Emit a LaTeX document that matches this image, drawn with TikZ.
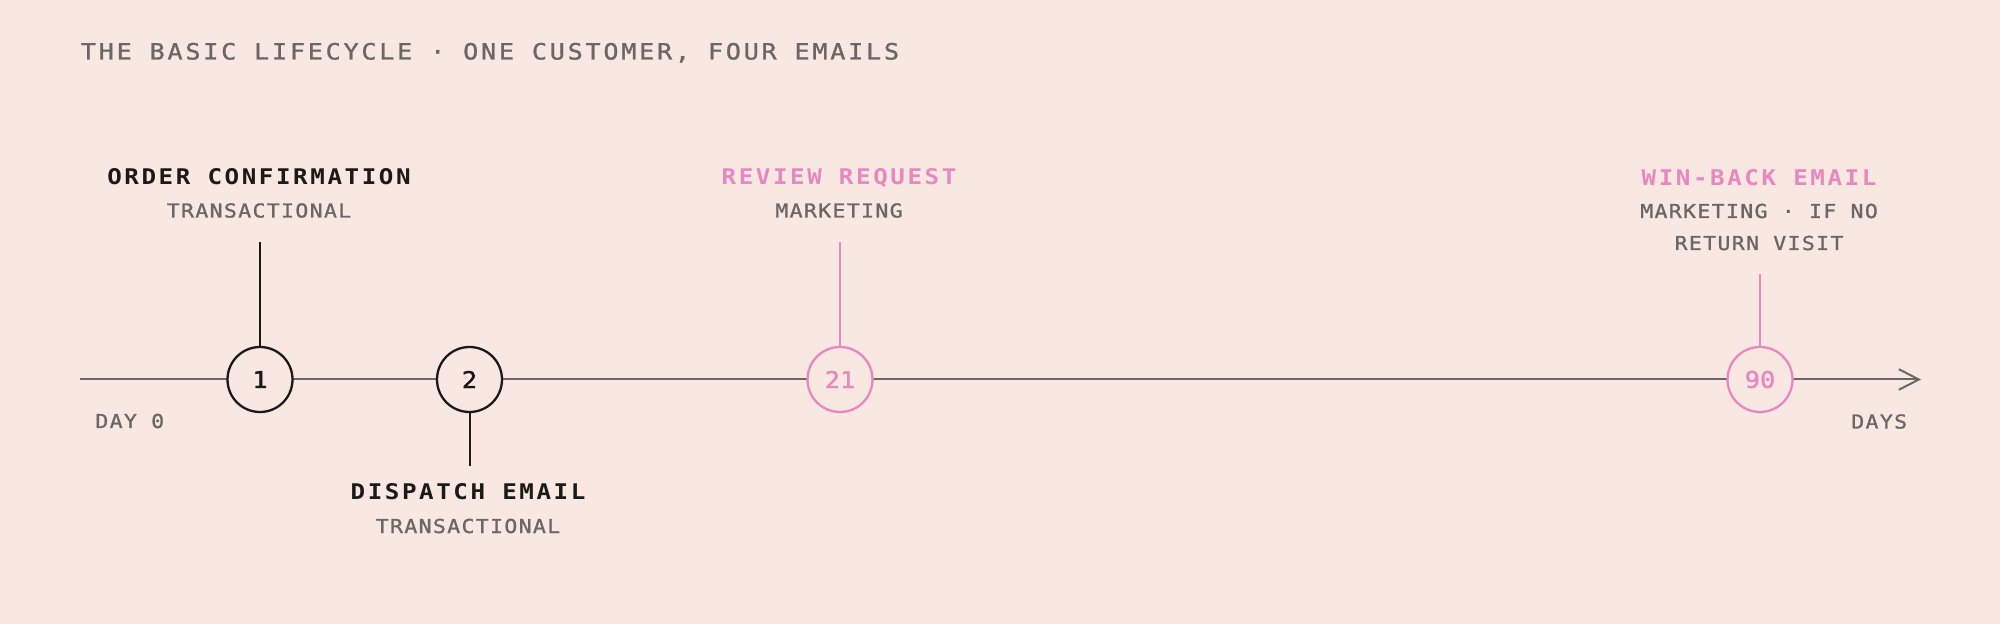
\documentclass[tikz,border=0pt]{standalone}
\usepackage{fontspec}
\usetikzlibrary{arrows.meta}
\newfontfamily\titlefont[LetterSpace=12.4,FakeStretch=1.12,FakeBold=1.2]{DejaVu Sans Mono}
\newfontfamily\labelfont[LetterSpace=11.9,FakeStretch=1.12]{DejaVu Sans Mono}
\newfontfamily\subfont[LetterSpace=7.0,FakeStretch=1.12,FakeBold=1.2]{DejaVu Sans Mono}
\newfontfamily\numfont[FakeBold=1.6,FakeStretch=1.1]{DejaVu Sans Mono}
\definecolor{bg}{HTML}{F8E8E1}
\definecolor{ink}{HTML}{1C1A19}
\definecolor{grey}{HTML}{6A6866}
\definecolor{pink}{HTML}{E888C1}
\tikzset{
  lab/.style={anchor=base, inner sep=0pt, font=\labelfont\bfseries\fontsize{10.8}{12}\selectfont, text=ink},
  sublab/.style={anchor=base, inner sep=0pt, font=\subfont\fontsize{9.6}{11}\selectfont, text=grey},
  evt/.style={circle, draw=ink, line width=1.15pt, minimum size=32.5pt, inner sep=0pt, fill=bg, text=ink, font=\numfont\fontsize{11.5}{13}\selectfont},
  mkt/.style={draw=pink, text=pink},
  axis/.style={draw=grey, line width=1pt},
  stem/.style={draw=ink, line width=1pt},
}
\begin{document}
\begin{tikzpicture}[x=0.5pt,y=-0.5pt]
\fill[bg] (0,0) rectangle (2000,624);
\useasboundingbox (0,0) rectangle (2000,624);
% title
\node[anchor=base west, inner sep=0pt, font=\titlefont\fontsize{11.2}{12}\selectfont, text=grey] (title) at (80.5,59.5) {THE BASIC LIFECYCLE · ONE CUSTOMER, FOUR EMAILS};
% axis
\coordinate (start) at (80,379.5);
\coordinate (end) at (1921,379.5);
\draw[axis, -{Straight Barb[length=10pt,width=10.3pt,line width=1pt]}] (start) -- (end);
% events
\node[evt] (c1) at (260,379.5) {1};
\node[evt] (c2) at (469.5,379.5) {2};
\node[evt, mkt] (c21) at (840,379.5) {21};
\node[evt, mkt] (c90) at (1760,379.5) {90};
% stems
\coordinate (t1) at (260,242);
\coordinate (b2) at (469.5,466);
\coordinate (t21) at (840,242);
\coordinate (t90) at (1760,274);
\draw[stem] (t1) -- (c1.north);
\draw[stem] (c2.south) -- (b2);
\draw[stem, draw=pink] (t21) -- (c21.north);
\draw[stem, draw=pink] (t90) -- (c90.north);
% labels
\node[lab] (l1) at (259,185) {ORDER CONFIRMATION};
\node[sublab] (s1) at (259,217.5) {TRANSACTIONAL};
\node[lab] (l2) at (468,499.5) {DISPATCH EMAIL};
\node[sublab] (s2) at (468,533) {TRANSACTIONAL};
\node[lab, text=pink] (l21) at (839,185) {REVIEW REQUEST};
\node[sublab] (s21) at (839,217.5) {MARKETING};
\node[lab, text=pink] (l90) at (1759,185.5) {WIN-BACK EMAIL};
\node[sublab] (s90a) at (1759,218) {MARKETING · IF NO};
\node[sublab] (s90b) at (1759,250) {RETURN VISIT};
\node[sublab, anchor=base west] (day0) at (95,428) {DAY 0};
\node[sublab, anchor=base east] (days) at (1907.5,428.5) {DAYS};
\end{tikzpicture}
\end{document}
